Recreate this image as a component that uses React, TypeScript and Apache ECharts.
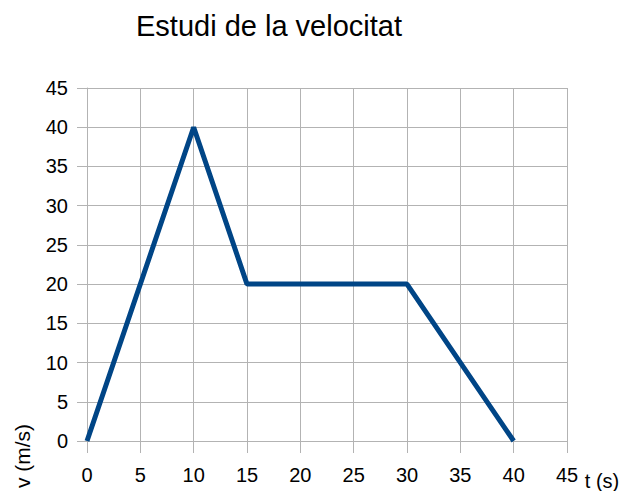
import React, { useEffect, useRef } from "react";
import * as echarts from "echarts";

const titleText = "Estudi de la velocitat";
const tValues = [0, 10, 15, 30, 40];
const vValues = [0, 40, 20, 20, 0];
const xName = "t (s)";
const yName = "v (m/s)";

export default function App() {
  const ref = useRef<HTMLDivElement>(null);
  useEffect(() => {
    document.body.style.margin = "0";
    const chart = echarts.init(ref.current!, null, { renderer: "svg" });
    const font = "'Liberation Sans', Arial, sans-serif";
    chart.setOption({
      animation: false,
      backgroundColor: "#ffffff",
      title: {
        text: titleText,
        left: 264,
        top: 6,
        textAlign: "center",
        textStyle: { fontFamily: font, fontSize: 29, fontWeight: "normal", color: "#000" },
      },
      grid: { left: 87, top: 88, width: 480, height: 353 },
      xAxis: {
        type: "value",
        min: 0,
        max: 45,
        interval: 5,
        axisLine: { show: true, lineStyle: { color: "#b3b3b3", width: 1 } },
        axisTick: { show: true, length: 12, lineStyle: { color: "#b3b3b3" } },
        splitLine: { show: true, lineStyle: { color: "#b3b3b3", width: 1 } },
        axisLabel: { color: "#000", fontFamily: font, fontSize: 20, margin: 24 },
      },
      yAxis: {
        type: "value",
        min: 0,
        max: 45,
        interval: 5,
        axisLine: { show: true, lineStyle: { color: "#b3b3b3", width: 1 } },
        axisTick: { show: true, length: 10, lineStyle: { color: "#b3b3b3" } },
        splitLine: { show: true, lineStyle: { color: "#b3b3b3", width: 1 } },
        axisLabel: { color: "#000", fontFamily: font, fontSize: 20, margin: 19 },
      },
      graphic: [
        {
          type: "text",
          x: 22,
          y: 456,
          rotation: Math.PI / 2,
          style: {
            text: yName,
            fontFamily: font,
            fontSize: 21,
            fill: "#000",
            textAlign: "center",
            textVerticalAlign: "middle",
          },
        },
        {
          type: "text",
          x: 602,
          y: 481,
          style: {
            text: xName,
            fontFamily: font,
            fontSize: 20,
            fill: "#000",
            textAlign: "center",
            textVerticalAlign: "middle",
          },
        },
      ],
      series: [
        {
          type: "line",
          data: tValues.map((t, i) => [t, vValues[i]]),
          showSymbol: false,
          symbol: "none",
          lineStyle: { color: "#004586", width: 5, join: "bevel" },
        },
      ],
    });
    return () => chart.dispose();
  }, []);
  return <div ref={ref} style={{ width: 623, height: 491 }} />;
}
